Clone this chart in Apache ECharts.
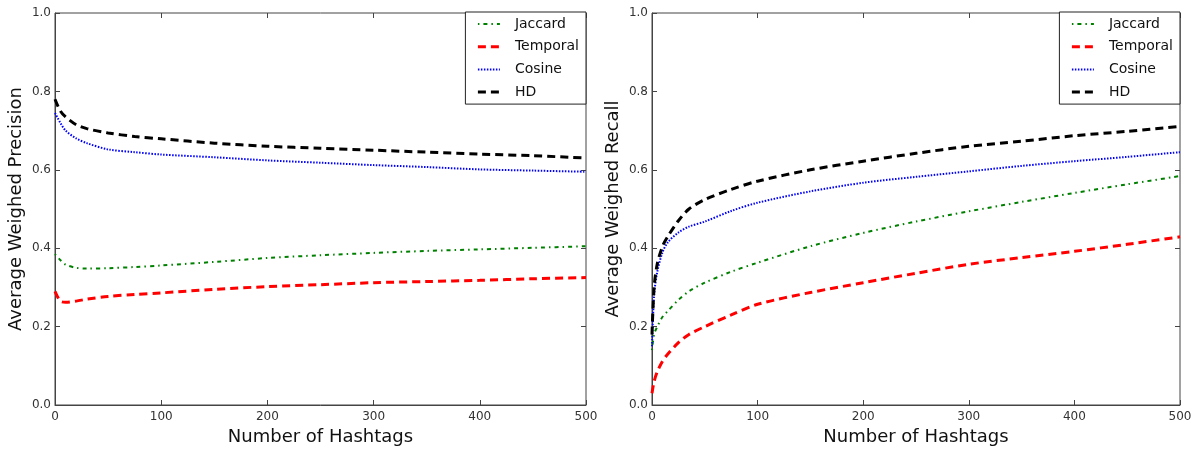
<!DOCTYPE html>
<html><head><meta charset="utf-8">
<script src="https://cdn.jsdelivr.net/npm/echarts@6/dist/echarts.min.js"></script>
<style>html,body{margin:0;padding:0;background:#fff}#c{width:1197px;height:451px}</style>
</head><body><div id="c"></div>
<script>
const seriesNames = ['Jaccard', 'Temporal', 'Cosine', 'HD'];
const xTicks = [0, 100, 200, 300, 400, 500];
const yTicks = [0.0, 0.2, 0.4, 0.6, 0.8, 1.0];

// Precision panel
const precX = [0, 5, 10, 20, 30, 50, 75, 100, 150, 200, 250, 300, 350, 400, 450, 500];
const precHD = [0.78, 0.75, 0.735, 0.715, 0.705, 0.694, 0.685, 0.679, 0.668, 0.66, 0.655, 0.65, 0.645, 0.64, 0.636, 0.63];
const precCosine = [0.745, 0.72, 0.70, 0.68, 0.668, 0.652, 0.645, 0.639, 0.632, 0.624, 0.618, 0.612, 0.607, 0.601, 0.598, 0.595];
const precJaccard = [0.385, 0.37, 0.358, 0.35, 0.348, 0.349, 0.352, 0.356, 0.365, 0.375, 0.382, 0.388, 0.393, 0.397, 0.401, 0.405];
const precTemporal = [0.29, 0.265, 0.262, 0.265, 0.27, 0.277, 0.282, 0.286, 0.295, 0.302, 0.307, 0.312, 0.315, 0.318, 0.322, 0.325];

// Recall panel
const recX = [0, 2, 5, 10, 15, 25, 35, 50, 75, 100, 150, 200, 250, 300, 350, 400, 450, 500];
const recHD = [0.18, 0.3, 0.36, 0.405, 0.43, 0.47, 0.50, 0.524, 0.55, 0.571, 0.6, 0.622, 0.642, 0.66, 0.673, 0.687, 0.698, 0.711];
const recCosine = [0.15, 0.28, 0.34, 0.39, 0.415, 0.44, 0.455, 0.468, 0.495, 0.516, 0.545, 0.567, 0.582, 0.596, 0.61, 0.622, 0.633, 0.645];
const recJaccard = [0.14, 0.18, 0.2, 0.225, 0.24, 0.268, 0.29, 0.312, 0.34, 0.363, 0.405, 0.439, 0.468, 0.494, 0.518, 0.541, 0.563, 0.584];
const recTemporal = [0.03, 0.06, 0.085, 0.112, 0.13, 0.159, 0.18, 0.2, 0.23, 0.257, 0.287, 0.312, 0.336, 0.359, 0.376, 0.392, 0.41, 0.429];

const styles = {
  Jaccard: {color: '#008000', width: 2, type: [1.5, 4, 4, 4]},
  Temporal: {color: '#ff0000', width: 3, type: [8, 5]},
  Cosine: {color: '#0000ff', width: 2, type: [1.5, 1.5]},
  HD: {color: '#000000', width: 3, type: [8, 5]}
};

const font = 'DejaVu Sans';
const zip = (xs, ys) => xs.map((x, i) => [x, ys[i]]);

function mkX(gi) {
  return {
    type: 'value', gridIndex: gi, min: 0, max: 500, interval: 100,
    name: 'Number of Hashtags', nameLocation: 'middle', nameGap: 23,
    nameTextStyle: {fontFamily: font, fontSize: 18, color: '#111'},
    axisLine: {onZero: false, lineStyle: {color: '#444', width: 1}},
    axisTick: {inside: true, length: 5, lineStyle: {color: '#444'}},
    axisLabel: {fontFamily: font, fontSize: 12, color: '#333', margin: 6},
    splitLine: {show: false}
  };
}
function mkXTop(gi) {
  return {
    type: 'value', gridIndex: gi, position: 'top', min: 0, max: 500, interval: 100,
    axisLine: {show: false, onZero: false}, axisLabel: {show: false},
    axisTick: {show: true, inside: true, length: 5, lineStyle: {color: '#444'}},
    splitLine: {show: false}
  };
}
function mkY(gi, name) {
  return {
    type: 'value', gridIndex: gi, min: 0, max: 1, interval: 0.2,
    name: name, nameLocation: 'middle', nameGap: 30,
    nameTextStyle: {fontFamily: font, fontSize: 18, color: '#111'},
    axisLine: {show: true, onZero: false, lineStyle: {color: '#444', width: 1}},
    axisTick: {show: true, inside: true, length: 5, lineStyle: {color: '#444'}},
    axisLabel: {fontFamily: font, fontSize: 12, color: '#333', margin: 4,
      formatter: v => v.toFixed(1)},
    splitLine: {show: false}
  };
}
function mkYRight(gi) {
  return {
    type: 'value', gridIndex: gi, position: 'right', min: 0, max: 1, interval: 0.2,
    axisLine: {show: false, onZero: false}, axisLabel: {show: false},
    axisTick: {show: true, inside: true, length: 5, lineStyle: {color: '#444'}},
    splitLine: {show: false}
  };
}
function mkSeries(gi, xs, data) {
  return seriesNames.map(n => ({
    name: n, type: 'line', xAxisIndex: gi, yAxisIndex: gi,
    data: zip(xs, data[n]), smooth: 0.3, showSymbol: false, symbol: 'none',
    lineStyle: {color: styles[n].color, width: styles[n].width, type: styles[n].type},
    itemStyle: {color: styles[n].color},
    animation: false
  }));
}
function mkLegend(right) {
  return {
    orient: 'vertical', right: right, top: 12, data: seriesNames,
    backgroundColor: '#fff', borderColor: '#222', borderWidth: 1, borderRadius: 0,
    padding: [5, 7, 5, 11], itemGap: 8.7, itemWidth: 22, itemHeight: 14,
    textStyle: {fontFamily: font, fontSize: 14, color: '#111', padding: [0, 0, 0, 10]},
    itemStyle: {opacity: 0},
    lineStyle: {width: 'inherit', type: 'inherit', color: 'inherit'}
  };
}

const chart = echarts.init(document.getElementById('c'), null, {renderer: 'canvas'});
chart.setOption({
  animation: false,
  backgroundColor: '#fff',
  grid: [
    {left: 55, right: 611, top: 13, bottom: 46, show: true, borderColor: '#444', borderWidth: 1},
    {left: 652, right: 17, top: 13, bottom: 46, show: true, borderColor: '#444', borderWidth: 1}
  ],
  xAxis: [mkX(0), mkX(1), mkXTop(0), mkXTop(1)],
  yAxis: [mkY(0, 'Average Weighed Precision'), mkY(1, 'Average Weighed Recall'), mkYRight(0), mkYRight(1)],
  legend: [mkLegend(611), mkLegend(17)],
  series: [
    ...mkSeries(0, precX, {Jaccard: precJaccard, Temporal: precTemporal, Cosine: precCosine, HD: precHD}),
    ...mkSeries(1, recX, {Jaccard: recJaccard, Temporal: recTemporal, Cosine: recCosine, HD: recHD})
  ]
});
</script></body></html>
